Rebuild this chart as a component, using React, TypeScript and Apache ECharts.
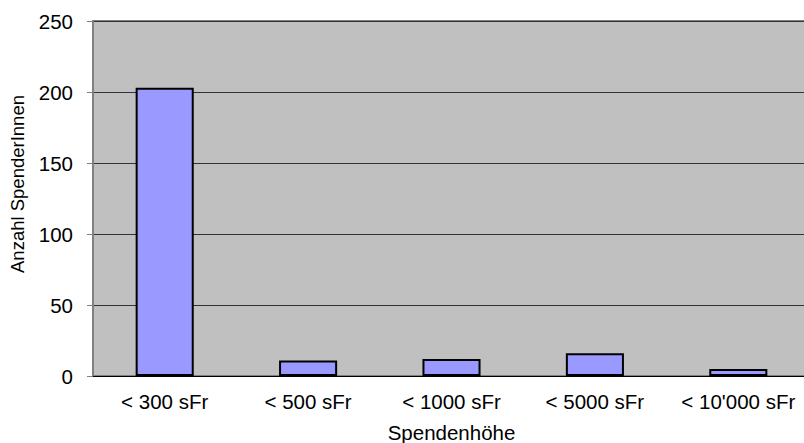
import React, { useEffect, useRef } from "react";
import * as echarts from "echarts";

const categories = ["< 300 sFr", "< 500 sFr", "< 1000 sFr", "< 5000 sFr", "< 10'000 sFr"];
const donors = [203, 11, 12, 16, 5];
const yTicks = { min: 0, max: 250, interval: 50 };
const yAxisTitle = "Anzahl SpenderInnen";
const xAxisTitle = "Spendenhöhe";

export default function App() {
  const ref = useRef<HTMLDivElement>(null);
  useEffect(() => {
    if (!ref.current) return;
    const chart = echarts.init(ref.current, null, { renderer: "svg" });
    const font = "'Liberation Sans', Arial, sans-serif";
    chart.setOption({
      animation: false,
      grid: {
        left: 93,
        top: 21,
        width: 717,
        bottom: 67,
        show: true,
        backgroundColor: "#C0C0C0",
        borderColor: "#808080",
        borderWidth: 2,
        containLabel: false,
        outerBoundsMode: "none",
      },
      graphic: [
        {
          type: "text",
          x: 17,
          y: 184,
          rotation: Math.PI / 2,
          style: {
            text: yAxisTitle,
            fontFamily: font,
            fontSize: 18.5,
            fill: "#000",
            align: "center",
            verticalAlign: "middle",
          },
        },
      ],
      xAxis: {
        type: "category",
        data: categories,
        name: xAxisTitle,
        nameLocation: "middle",
        nameGap: 46,
        nameTextStyle: { fontFamily: font, fontSize: 20.5, color: "#000" },
        axisLine: { show: true, lineStyle: { color: "#000", width: 1 } },
        axisTick: { show: false },
        axisLabel: { fontFamily: font, fontSize: 20.5, color: "#000", margin: 15, interval: 0, hideOverlap: false },
        splitLine: { show: false },
      },
      yAxis: {
        type: "value",
        min: yTicks.min,
        max: yTicks.max,
        interval: yTicks.interval,
        axisLine: { show: true, lineStyle: { color: "#808080", width: 2 } },
        axisTick: { show: true, inside: false, length: 6, lineStyle: { color: "#808080", width: 1 } },
        axisLabel: { fontFamily: font, fontSize: 20.5, color: "#000", margin: 20 },
        splitLine: { show: true, lineStyle: { color: "#333", width: 1 } },
      },
      series: [
        {
          type: "bar",
          data: donors,
          barWidth: "40.5%",
          itemStyle: { color: "#9999FF", borderColor: "#000", borderWidth: 2 },
        },
      ],
    });
    return () => chart.dispose();
  }, []);
  return <div ref={ref} style={{ width: 804, height: 443, position: "absolute", left: 0, top: 0 }} />;
}
